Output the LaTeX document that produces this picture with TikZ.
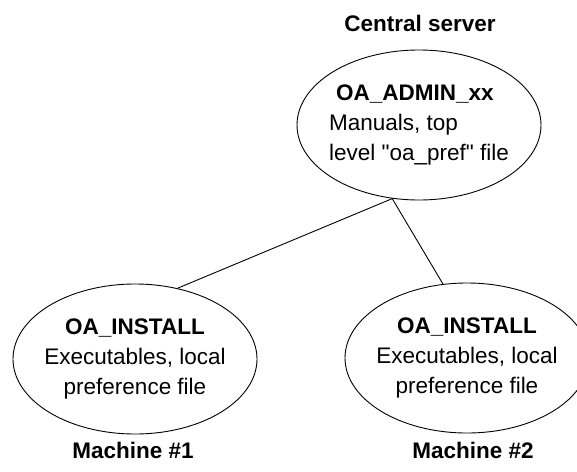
\documentclass[tikz,border=0pt]{standalone}
\usepackage{fontspec}
\setmainfont{Liberation Sans}
\usetikzlibrary{shapes.geometric}

\begin{document}
\begin{tikzpicture}[x=1pt, y=-1pt, font=\fontsize{22.5}{30}\selectfont,
    store/.style={ellipse, draw, line width=0.9pt, inner xsep=-12pt, inner ysep=0pt,
      minimum width=244pt, minimum height=150pt},
    hostname/.style={font=\fontsize{22.5}{30}\selectfont\bfseries},
    link/.style={line width=0.9pt, black}]
    \useasboundingbox (0, 0) rectangle (577, 471);

    \node[hostname] (srvlabel) at (420, 23) {Central server};
    \node[store, align=left] (admin) at (419, 125)
      {\hspace*{7pt}\textbf{OA\_ADMIN\_xx}\\Manuals, top\\level \textquotedbl oa\_pref\textquotedbl{} file};

    \node[store, align=center] (inst1) at (135, 359)
      {\textbf{OA\_INSTALL}\\Executables, local\\preference file};
    \node[store, align=center] (inst2) at (467, 358)
      {\textbf{OA\_INSTALL}\\Executables, local\\preference file};

    \node[hostname] (m1label) at (133, 450) {Machine \#1};
    \node[hostname] (m2label) at (473, 450) {Machine \#2};

    \draw[link] (admin.250) -- (inst1.59);
    \draw[link] (admin.250) -- (inst2.108);
\end{tikzpicture}
\end{document}
